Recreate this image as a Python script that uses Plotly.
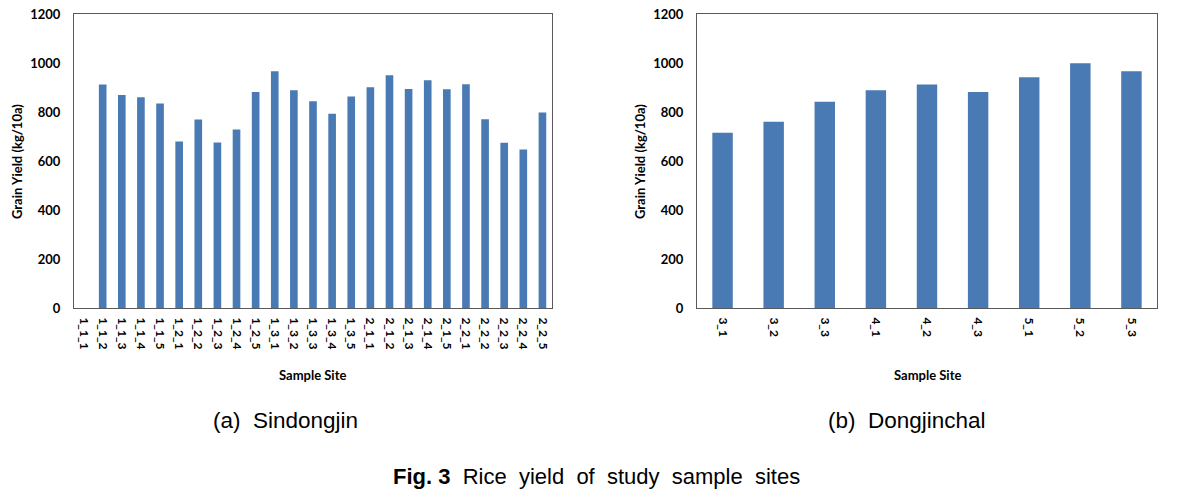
import plotly.graph_objects as go

sites_a = ["1_1_1", "1_1_2", "1_1_3", "1_1_4", "1_1_5", "1_2_1", "1_2_2", "1_2_3", "1_2_4", "1_2_5",
           "1_3_1", "1_3_2", "1_3_3", "1_3_4", "1_3_5", "2_1_1", "2_1_2", "2_1_3", "2_1_4", "2_1_5",
           "2_2_1", "2_2_2", "2_2_3", "2_2_4", "2_2_5"]
yield_a = [0, 912, 869, 860, 835, 680, 769, 676, 729, 882,
           966, 889, 844, 793, 863, 901, 950, 894, 930, 893,
           913, 770, 674, 647, 798]

sites_b = ["3_1", "3_2", "3_3", "4_1", "4_2", "4_3", "5_1", "5_2", "5_3"]
yield_b = [715, 760, 842, 889, 912, 882, 942, 999, 966]

y_ticks = [0, 200, 400, 600, 800, 1000, 1200]

BAR = "#4a7ab3"
W, H = 1193, 492
FONT = "Lato, Carlito, Open Sans, sans-serif"
CAP_FONT = "Liberation Sans, Arial, sans-serif"

fig = go.Figure()
fig.add_trace(go.Bar(x=sites_a, y=yield_a, marker_color=BAR, marker_line_width=0,
                     xaxis="x", yaxis="y", showlegend=False))
fig.add_trace(go.Bar(x=sites_b, y=yield_b, marker_color=BAR, marker_line_width=0,
                     xaxis="x2", yaxis="y2", showlegend=False))

ydom = [1 - 308 / H, 1 - 14 / H]
xdom1 = [74 / W, 552 / W]
xdom2 = [697 / W, 1157 / W]

axis_common = dict(showline=True, mirror=True, linecolor="#5a5a5a", linewidth=1,
                   showgrid=False, zeroline=False, ticks="", automargin=False)

xfont = dict(family=FONT, size=12, color="#000000", weight="bold")
yfont = dict(family=FONT, size=13, color="#000000", weight="bold")

fig.update_layout(
    width=W, height=H,
    margin=dict(l=0, r=0, t=0, b=0),
    paper_bgcolor="white", plot_bgcolor="white",
    bargap=0.6,
    xaxis=dict(domain=xdom1, anchor="y", tickangle=90, type="category",
               tickfont=xfont, ticklabelstandoff=6, **axis_common),
    yaxis=dict(domain=ydom, anchor="x", range=[0, 1200], tickvals=y_ticks,
               tickfont=yfont, ticklabelstandoff=10, **axis_common),
    xaxis2=dict(domain=xdom2, anchor="y2", tickangle=90, type="category",
                tickfont=xfont, ticklabelstandoff=6, **axis_common),
    yaxis2=dict(domain=ydom, anchor="x2", range=[0, 1200], tickvals=y_ticks,
                tickfont=yfont, ticklabelstandoff=10, **axis_common),
)

def ann(text, x, y, size, family=FONT, angle=0, bold=False):
    fig.add_annotation(text=f"<b>{text}</b>" if bold else text, x=x / W, y=1 - y / H,
                       xref="paper", yref="paper", showarrow=False, textangle=angle,
                       font=dict(family=family, size=size, color="#000000"),
                       xanchor="center", yanchor="middle")

NB = "\u00a0"
ann("Grain Yield (kg/10a)", 17, 162, 13, angle=-90, bold=True)
ann("Grain Yield (kg/10a)", 640, 162, 13, angle=-90, bold=True)
ann("Sample Site", 312, 375, 13, bold=True)
ann("Sample Site", 927, 375, 13, bold=True)
ann(f"(a){NB} Sindongjin", 285, 420, 22.5, family=CAP_FONT)
ann(f"(b){NB} Dongjinchal", 907, 420, 22.5, family=CAP_FONT)
ann(f"<b>Fig. 3</b>{NB} Rice{NB} yield{NB} of{NB} study{NB} sample{NB} sites", 596, 476, 22,
    family=CAP_FONT)

fig.write_html("out.html", config={"displayModeBar": False},
               post_script="document.body.style.margin='0';document.body.style.overflow='hidden';")
